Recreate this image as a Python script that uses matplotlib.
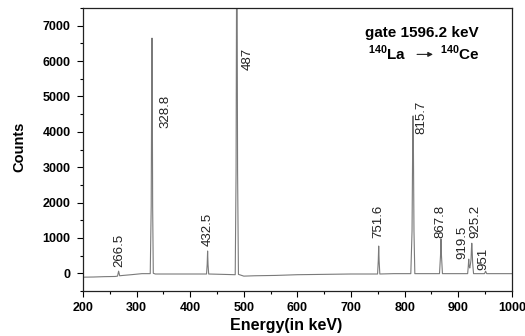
import matplotlib
matplotlib.use("Agg")
import matplotlib.pyplot as plt
from matplotlib.ticker import MultipleLocator

plt.rcParams['font.family'] = ['Liberation Sans', 'DejaVu Sans']
plt.rcParams['mathtext.fontset'] = 'custom'
plt.rcParams['mathtext.rm'] = 'Liberation Sans'
plt.rcParams['mathtext.bf'] = 'Liberation Sans:bold'

# Spectrum points (energy keV, counts)
energy = [200, 220, 240, 260, 264.5, 266.5, 268.5, 275, 290, 310, 325.5, 327.3, 328.2, 328.8,
          329.3, 330.0, 331.2, 335, 360, 400, 430.5, 431.7, 432.5, 433.3, 434.5, 460, 484,
          485.6, 486.4, 487, 487.6, 488.4, 490, 500, 520, 560, 600, 650, 700, 749.5, 750.8,
          751.6, 752.4, 753.7, 780, 811.5, 813.8, 815.0, 815.7, 816.3, 817.4, 819, 840, 865,
          866.9, 867.8, 868.7, 870.5, 900, 917.5, 918.7, 919.5, 920.3, 921.5, 922.6, 923.8,
          924.6, 925.2, 925.8, 926.8, 928.5, 940, 949, 951, 953, 980, 1000]
counts = [-110, -105, -95, -90, -80, 60, -70, -60, -40, -10, -10, 1900, 5350, 6650,
          5300, 1900, 0, -20, -20, -20, -20, 250, 630, 250, -20, -30, -40,
          2900, 7600, 7600, 7600, 2900, -30, -80, -70, -60, -40, -30, -20, -20, 350,
          770, 350, -20, -10, -10, 1200, 3700, 4450, 3700, 1200, -10, -10, -10,
          500, 970, 500, -10, -10, -10, 200, 400, 200, 150, 250, 380,
          700, 850, 700, 300, -10, -10, -10, 60, -10, -10, -10]

# Peak labels
peak_labels = ['266.5', '328.8', '432.5', '487', '751.6', '815.7', '867.8', '919.5', '925.2', '951']
label_x = [267, 353, 433, 508, 750, 831, 866, 907, 931, 946]
label_y = [180, 4100, 780, 5750, 1000, 3950, 1000, 400, 1000, 90]

fig = plt.figure(figsize=(5.25, 3.36), dpi=100)
ax = fig.add_axes([0.158, 0.134, 0.817, 0.842])
ax.plot(energy, counts, color='#7a7a7a', lw=0.8)

for lab, x, y in zip(peak_labels, label_x, label_y):
    ax.text(x, y, lab, rotation=90, ha='center', va='bottom', fontsize=9.5, color='#222222')

ax.set_xlim(200, 1000)
ax.set_ylim(-500, 7500)
ax.xaxis.set_major_locator(MultipleLocator(100))
ax.xaxis.set_minor_locator(MultipleLocator(50))
ax.yaxis.set_major_locator(MultipleLocator(1000))
ax.yaxis.set_minor_locator(MultipleLocator(500))
ax.tick_params(which='major', direction='out', length=4, width=0.8, labelsize=9)
ax.tick_params(axis='y', which='major', pad=5)
ax.tick_params(axis='x', which='major', pad=4)
ax.tick_params(which='minor', direction='out', length=2.5, width=0.8)
for lbl in ax.get_xticklabels() + ax.get_yticklabels():
    lbl.set_fontweight('bold')
for s in ax.spines.values():
    s.set_linewidth(0.9)
    s.set_color('#222222')

ax.set_xlabel('Energy(in keV)', fontsize=11.5, fontweight='bold')
ax.set_ylabel('Counts', fontsize=10.5, fontweight='bold')
ax.xaxis.set_label_coords(0.474, -0.095)
ax.yaxis.set_label_coords(-0.132, 0.51)

ax.text(832, 6800, 'gate 1596.2 keV', ha='center', va='center', fontsize=11, fontweight='bold')
ax.text(767, 6230, r'$^{\mathbf{140}}\mathbf{La}$', ha='center', va='center', fontsize=11)
ax.text(903, 6230, r'$^{\mathbf{140}}\mathbf{Ce}$', ha='center', va='center', fontsize=11)
ax.annotate('', xy=(858, 6190), xytext=(818, 6190),
            arrowprops=dict(arrowstyle='-|>', color='#222222', lw=0.8, mutation_scale=7))

fig.savefig('out.png', dpi=100)
